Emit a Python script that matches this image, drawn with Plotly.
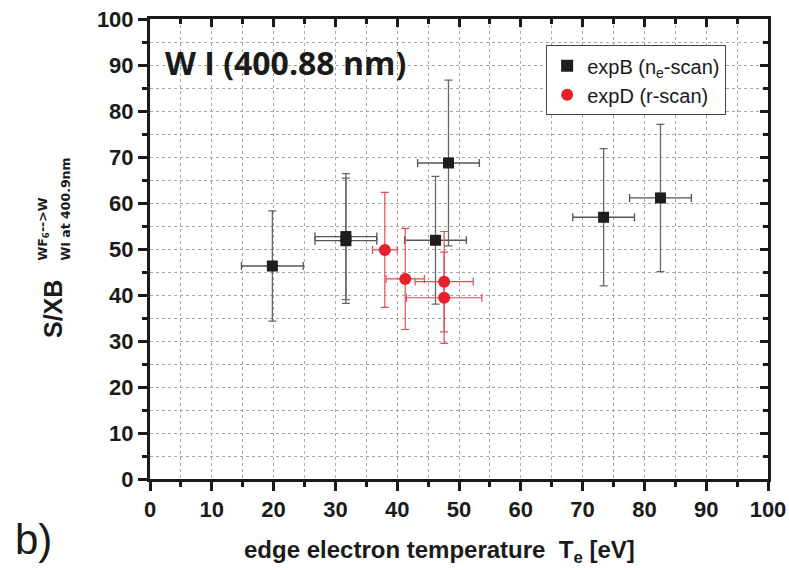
import plotly.graph_objects as go

# expB: density scan (black squares)
b_te = [19.8, 31.7, 31.7, 46.2, 48.3, 73.4, 82.6]
b_te_err = [5.0, 5.0, 5.0, 5.0, 5.0, 5.0, 5.0]
b_sxb = [46.3, 52.7, 51.8, 51.9, 68.7, 56.9, 61.1]
b_sxb_err = [12.0, 13.7, 13.6, 13.9, 18.0, 14.9, 16.0]

# expD: radial scan (red circles)
d_te = [38.0, 41.3, 47.6, 47.6]
d_te_err = [2.0, 3.1, 4.7, 6.1]
d_sxb = [49.8, 43.5, 42.9, 39.4]
d_sxb_err = [12.5, 11.0, 10.9, 9.9]

x_ticks = list(range(0, 101, 10))
y_ticks = list(range(0, 101, 10))

INK = "#1a1a1a"
tick_font = dict(family="Liberation Sans, Arial", size=22, color=INK, weight="bold")

fig = go.Figure()

fig.add_trace(go.Scatter(
    x=b_te, y=b_sxb, mode="markers", name="expB (n<sub>e</sub>-scan)",
    marker=dict(symbol="square", size=11, color="#1e1c1d"),
    error_x=dict(type="data", array=b_te_err, color="#555555", thickness=1.3, width=4),
    error_y=dict(type="data", array=b_sxb_err, color="#666666", thickness=1.3, width=4),
))
fig.add_trace(go.Scatter(
    x=d_te, y=d_sxb, mode="markers", name="expD (r-scan)",
    marker=dict(symbol="circle", size=12, color="#e8202a"),
    error_x=dict(type="data", array=d_te_err, color="#ea4a52", thickness=1.2, width=4),
    error_y=dict(type="data", array=d_sxb_err, color="#ea4a52", thickness=1.2, width=4),
))
# empty trace that carries the mirrored top/right axes
fig.add_trace(go.Scatter(x=[None], y=[None], xaxis="x2", yaxis="y2",
                         showlegend=False, hoverinfo="skip"))

minor_out = dict(dtick=5, ticks="outside", ticklen=5, tickwidth=3, tickcolor=INK,
                 showgrid=True, gridcolor="#a8a8a8", griddash="dot")
minor_in = dict(dtick=5, ticks="inside", ticklen=5, tickwidth=3, tickcolor=INK)

main_axis = dict(range=[0, 100], ticks="outside", ticklen=9, tickwidth=3, tickcolor=INK,
                 showline=True, linewidth=3, linecolor=INK, tickfont=tick_font,
                 zeroline=False, automargin=False, showgrid=True,
                 gridcolor="#a8a8a8", griddash="dot", gridwidth=1, minor=minor_out)
mirror_axis = dict(range=[0, 100], ticks="inside", ticklen=8, tickwidth=3, tickcolor=INK,
                   showticklabels=False, showline=True, linewidth=3, linecolor=INK,
                   showgrid=False, zeroline=False, automargin=False, minor=minor_in)

fig.update_layout(
    width=789, height=570,
    margin=dict(l=150, r=21, t=19, b=91),
    paper_bgcolor="white", plot_bgcolor="white",
    font=dict(family="Liberation Sans, Arial", color=INK),
    xaxis=dict(tickvals=x_ticks, **main_axis),
    yaxis=dict(tickvals=y_ticks, **main_axis),
    xaxis2=dict(overlaying="x", side="top", tickvals=x_ticks, **mirror_axis),
    yaxis2=dict(overlaying="y", side="right", tickvals=y_ticks, **mirror_axis),
    legend=dict(x=0.641, y=0.943, xanchor="left", yanchor="top",
                bgcolor="white", bordercolor="#444444", borderwidth=1,
                font=dict(family="Liberation Sans, Arial", size=20, color=INK),
                itemsizing="constant"),
    showlegend=True,
)

# (text, x px, y px, angle, font size, family, xanchor, yanchor)
labels = [
    ("<b>W I (400.88 nm)</b>", 163, 62, 0, 32, "Open Sans, Liberation Sans, Arial", "left", "middle"),
    ("<b>edge electron temperature  T<sub>e</sub> [eV]</b>", 439, 551, 0, 24,
     "Liberation Sans, Arial", "center", "middle"),
    ("b)", 33, 539, 0, 42, "Liberation Sans, Arial", "center", "middle"),
    ("<b>S/XB</b>", 53, 309, -90, 25, "Liberation Sans, Arial", "center", "middle"),
    ("<b>WF<sub>6</sub>-->W</b>", 43, 263, -90, 12.5, "DejaVu Sans, Liberation Sans", "center", "bottom"),
    ("<b>WI at 400.9nm</b>", 65, 263, -90, 12.5, "DejaVu Sans, Liberation Sans", "center", "bottom"),
]
pw, ph = 789 - 150 - 21, 570 - 19 - 91
annotations = []
for text, px, py, ang, size, fam, xa, ya in labels:
    annotations.append(dict(
        text=text, x=(px - 150) / pw, y=(570 - 91 - py) / ph,
        xref="paper", yref="paper", xanchor=xa, yanchor=ya, textangle=ang,
        showarrow=False, font=dict(family=fam, size=size, color=INK)))
fig.update_layout(annotations=annotations)

fig.write_html("out.html")
